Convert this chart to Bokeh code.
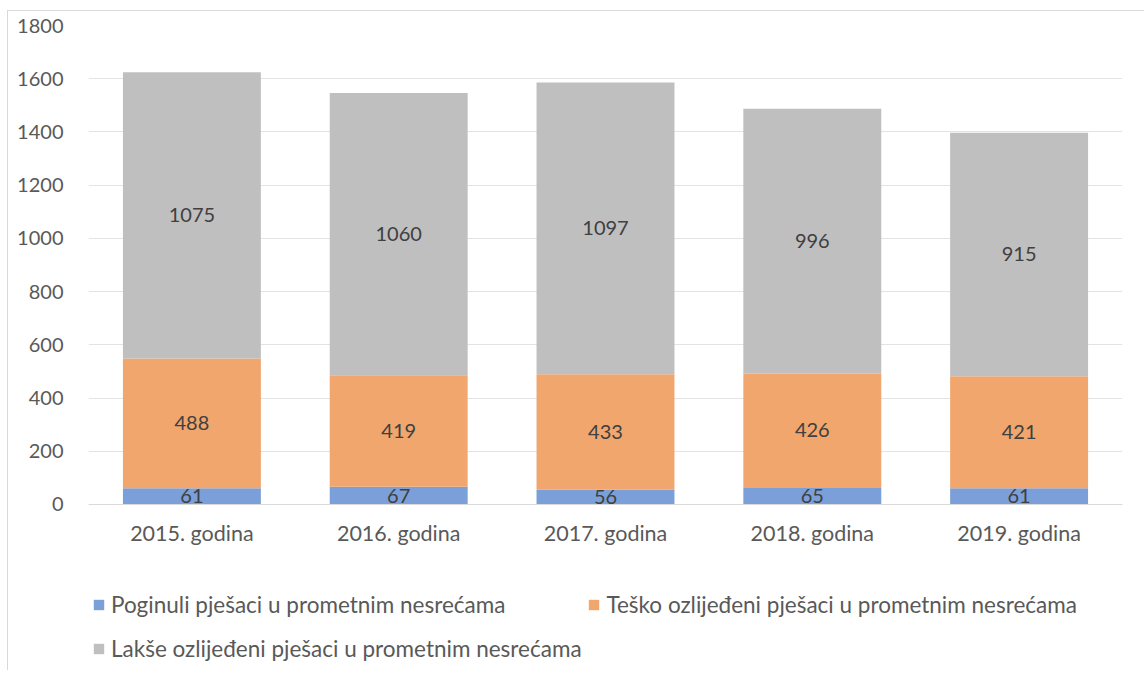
from bokeh.plotting import figure
from bokeh.models import FactorRange, Legend, LegendItem, ColumnDataSource, Range1d
from bokeh.core.properties import value
from bokeh.embed import file_html
from bokeh.resources import INLINE

years = ["2015. godina", "2016. godina", "2017. godina", "2018. godina", "2019. godina"]
poginuli = [61, 67, 56, 65, 61]
tesko = [488, 419, 433, 426, 421]
lakse = [1075, 1060, 1097, 996, 915]
series_names = [
    "Poginuli pješaci u prometnim nesrećama",
    "Teško ozlijeđeni pješaci u prometnim nesrećama",
    "Lakše ozlijeđeni pješaci u prometnim nesrećama",
]
colors = ["#7b9fd8", "#f1a66e", "#bfbfbf"]
FONT = "Lato"

src = ColumnDataSource(dict(years=years, p=poginuli, t=tesko, l=lakse))

# frame extends below zero so the legend can sit inside it (0 stays at the same pixel height)
p = figure(x_range=FactorRange(*years), y_range=Range1d(-624, 1800),
           frame_width=1034, frame_height=645, output_backend="svg", toolbar_location=None,
           min_border_left=80, min_border_right=22, min_border_top=14, min_border_bottom=0)
p.styles = {"margin-left": "7px", "margin-top": "10px",
            "border-left": "1px solid #d9d9d9", "border-top": "1px solid #d9d9d9"}

renderers = p.vbar_stack(["p", "t", "l"], x="years", width=0.667, color=colors, line_color=None, source=src)

# data labels at segment centres
lab_y, lab_x, lab_t = [], [], []
for i, yr in enumerate(years):
    base = 0
    for vals in (poginuli, tesko, lakse):
        v = vals[i]
        lab_x.append(yr)
        lab_y.append(base + v / 2)
        lab_t.append(str(v))
        base += v
p.text(x=lab_x, y=lab_y, text=lab_t, text_align="center", text_baseline="middle",
       text_font=value(FONT), text_font_size="20px", text_color="#404040")

p.xgrid.grid_line_color = None
p.ygrid.grid_line_color = "#e3e3e3"
p.ygrid.grid_line_width = 1
p.yaxis.ticker = list(range(0, 1801, 200))
p.outline_line_color = None

for ax in (p.xaxis[0], p.yaxis[0]):
    ax.major_tick_line_color = None
    ax.minor_tick_line_color = None
    ax.major_label_text_font = FONT
    ax.major_label_text_color = "#595959"
p.yaxis.major_label_text_font_size = "20px"
p.xaxis.major_label_text_font_size = "21.5px"
p.yaxis.axis_line_color = None
p.yaxis.major_label_standoff = 19
p.xaxis.axis_line_color = "#d9d9d9"
p.xaxis.major_label_standoff = 10
p.xaxis.fixed_location = 0

common = dict(label_text_font=FONT, label_text_font_size="22.5px", label_text_color="#595959",
              glyph_width=13, glyph_height=13, label_standoff=6,
              border_line_color=None, background_fill_alpha=0, padding=0, margin=0)
legend1 = Legend(items=[LegendItem(label=series_names[i], renderers=[renderers[i]]) for i in (0, 1)],
                 orientation="horizontal", location=(4, 52), spacing=82, **common)
legend2 = Legend(items=[LegendItem(label=series_names[2], renderers=[renderers[2]])],
                 orientation="horizontal", location=(4, 8), **common)
p.add_layout(legend1, "center")
p.add_layout(legend2, "center")

open("out.html", "w").write(file_html(p, INLINE))
